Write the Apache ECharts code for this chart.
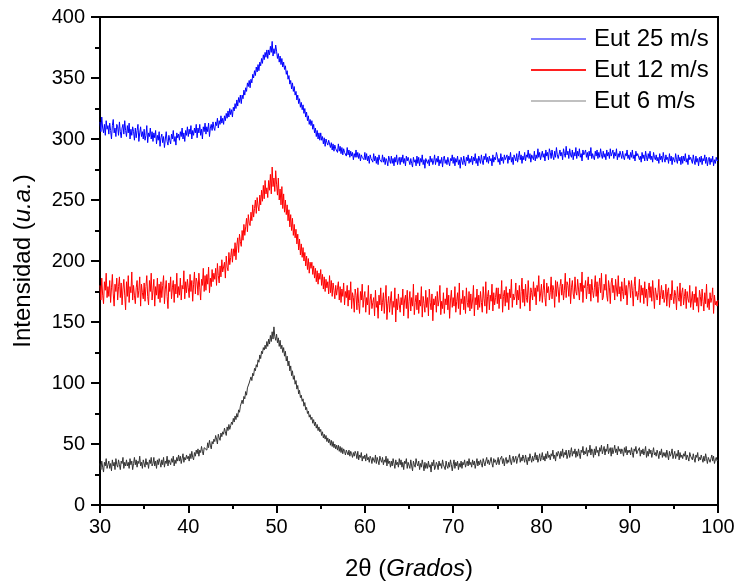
<!DOCTYPE html>
<html>
<head>
<meta charset="utf-8">
<title>Intensidad vs 2θ</title>
<script src="https://cdn.jsdelivr.net/npm/echarts@6/dist/echarts.min.js"></script>
<style>
  html, body { margin: 0; padding: 0; background: #fff; }
  #chart { width: 738px; height: 583px; }
</style>
</head>
<body>
<div id="chart"></div>
<script>
// Diffraction scans, 2θ from 30° to 100° sampled every 0.1° (one row per degree)
const X_START = 30;
const X_STEP = 0.1;

const seriesNames = ['Eut 25 m/s', 'Eut 12 m/s', 'Eut 6 m/s'];

const eut25 = [
  314,306,318,309,305,312,303,315,308,311,
  304,313,307,300,311,316,305,309,302,312,
  310,303,314,306,301,309,312,304,315,307,
  302,311,305,313,300,308,303,310,306,299,
  309,301,307,312,298,305,310,302,306,300,
  308,299,303,311,297,305,302,309,300,306,
  298,305,301,307,296,303,299,306,294,301,
  304,297,302,293,300,306,298,295,303,299,
  296,304,300,307,298,302,295,305,301,304,
  299,306,302,309,300,305,298,307,303,310,
  302,308,304,311,300,307,303,309,305,312,
  301,309,305,312,303,308,300,310,306,313,
  304,310,306,313,302,309,312,307,314,309,
  307,314,311,317,309,315,312,319,313,317,
  312,319,315,321,317,323,318,325,320,324,
  318,326,323,329,325,332,327,334,330,336,
  329,336,333,340,336,342,339,346,343,348,
  342,349,346,353,350,356,352,359,355,361,
  356,363,360,366,362,369,365,371,367,373,
  366,373,369,376,371,380,368,374,370,377,
  372,366,370,363,368,361,366,359,363,357,
  360,353,356,349,352,345,348,341,346,339,
  343,336,339,332,336,329,333,326,330,324,
  328,321,325,318,322,315,319,312,316,311,
  315,308,312,305,309,302,307,300,305,299,
  305,299,302,296,301,294,300,297,295,299,
  299,293,297,291,296,290,295,292,293,289,
  296,290,294,288,293,287,292,289,290,286,
  293,287,291,285,290,286,289,283,288,285,
  291,285,289,284,288,282,287,285,286,283,
  289,283,288,282,286,280,287,284,285,281,
  288,282,286,280,285,279,287,283,284,281,
  287,281,285,279,284,282,278,286,283,280,
  286,280,284,278,285,281,287,279,283,285,
  279,285,281,287,280,284,278,286,282,285,
  286,279,284,280,277,285,281,283,278,286,
  280,285,278,284,281,287,279,283,276,284,
  285,280,283,278,286,281,284,279,282,287,
  279,284,281,286,278,283,280,285,277,284,
  286,280,283,279,285,281,278,284,282,287,
  280,285,278,284,281,286,279,283,276,285,
  284,279,286,281,278,285,282,287,280,284,
  281,286,279,285,282,288,280,284,278,286,
  285,280,287,282,279,286,283,288,281,285,
  280,286,282,284,278,287,281,285,283,289,
  286,281,284,279,288,282,285,280,287,283,
  282,287,280,286,283,289,281,285,279,287,
  286,282,288,281,285,290,283,287,280,286,
  283,289,282,287,285,291,284,288,281,287,
  288,283,290,282,287,284,292,285,289,283,
  284,290,285,288,282,291,286,289,283,292,
  289,284,291,286,283,290,285,293,287,284,
  285,291,286,289,283,292,288,285,294,287,
  290,284,292,287,285,291,283,289,286,293,
  284,290,286,292,285,288,282,291,287,289,
  291,285,289,283,290,286,293,284,288,285,
  283,290,286,291,284,289,285,292,287,284,
  290,285,288,283,291,286,289,284,292,286,
  285,291,284,289,286,292,283,288,285,290,
  289,284,290,285,283,288,286,291,284,287,
  283,289,285,291,284,287,282,290,286,288,
  288,283,286,281,289,284,287,282,290,285,
  282,288,284,290,283,286,281,289,285,283,
  287,282,285,280,288,283,286,281,289,284,
  281,287,283,285,280,288,282,286,279,285,
  286,281,288,283,280,287,282,285,279,286,
  280,286,282,288,281,284,279,287,283,285,
  285,280,287,282,279,286,281,284,278,285,
  281,286,279,284,282,287,280,285,278,283,
  285,279,284,281,286,278,283,280,285,282,
  283
];

const eut12 = [
  180,168,186,172,165,183,176,190,170,179,
  171,184,166,178,189,173,163,181,175,186,
  168,179,187,170,182,164,177,185,172,160,
  183,171,188,166,179,174,191,168,180,172,
  165,178,184,170,176,187,163,181,174,169,
  182,167,179,188,171,164,184,175,190,168,
  176,185,163,179,172,186,169,181,166,183,
  170,180,188,165,177,184,171,161,182,175,
  187,169,178,184,166,181,173,190,170,179,
  172,186,168,180,177,192,169,183,174,185,
  178,170,189,175,184,167,181,191,173,186,
  183,172,190,178,168,185,180,194,175,188,
  176,189,181,195,174,186,179,193,183,190,
  185,194,180,198,188,182,196,187,201,191,
  190,199,186,204,195,192,207,197,203,210,
  199,210,204,215,201,213,219,207,222,216,
  212,225,217,230,221,228,235,224,238,231,
  229,240,233,246,236,243,250,239,252,245,
  241,254,246,258,249,262,251,266,255,260,
  252,266,258,271,255,277,261,268,257,274,
  263,254,268,250,259,246,261,243,255,240,
  250,238,246,233,242,228,238,225,235,221,
  230,219,226,214,222,209,218,205,214,203,
  211,200,207,196,204,193,202,190,199,194,
  199,189,196,186,194,183,192,181,190,185,
  193,180,189,177,187,175,185,178,183,173,
  188,174,184,171,182,176,169,180,172,178,
  183,168,179,166,177,171,182,164,175,170,
  180,163,176,168,183,161,174,170,158,177,
  172,160,178,165,157,175,168,181,162,170,
  175,158,170,164,180,156,168,173,161,166,
  170,155,176,162,167,153,172,164,178,159,
  166,174,157,169,180,152,165,171,158,168,
  175,156,167,162,178,150,169,160,173,164,
  158,170,164,177,155,168,172,161,176,153,
  167,175,159,170,163,181,156,166,172,160,
  174,157,168,163,179,154,171,165,158,176,
  162,170,155,177,166,160,173,151,169,164,
  171,158,175,163,168,180,156,167,161,174,
  157,169,164,178,160,172,153,168,176,162,
  170,163,179,158,167,174,161,182,156,169,
  165,176,160,171,157,178,166,162,175,159,
  173,161,168,180,155,170,164,177,160,172,
  162,175,166,158,179,169,163,183,157,171,
  176,160,172,167,181,159,174,164,170,178,
  165,178,161,173,169,184,158,171,176,163,
  179,166,174,160,177,170,185,162,173,168,
  171,182,164,176,168,180,161,175,186,166,
  177,163,181,170,166,184,172,159,178,174,
  168,183,171,178,164,180,175,188,167,173,
  181,166,176,185,170,163,182,174,179,168,
  174,187,169,180,176,162,184,171,183,177,
  166,179,185,172,181,168,176,190,170,183,
  180,171,186,165,178,184,173,169,187,175,
  172,185,177,168,182,175,191,166,180,178,
  184,169,179,187,173,181,167,185,176,170,
  178,188,171,183,166,179,186,174,190,168,
  170,181,176,189,172,167,184,178,165,182,
  186,174,180,168,185,177,171,188,173,179,
  167,183,175,169,186,172,180,164,177,184,
  181,170,184,176,163,179,187,171,175,168,
  174,185,166,180,172,178,165,183,170,177,
  163,176,182,170,179,167,184,173,161,178,
  177,168,174,185,164,172,180,169,176,166,
  170,181,163,175,178,162,173,168,184,171,
  165,176,172,160,179,170,167,182,163,174,
  178,164,171,177,161,175,169,166,180,162,
  168,175,160,173,166,179,163,170,158,176,
  171,163,177,167,159,174,165,181,162,169,
  160,174,166,170,178,157,172,164,167,163,
  168
];

const eut6 = [
  34,29,36,31,27,35,32,38,30,33,
  36,30,34,28,37,32,35,29,38,33,
  31,37,33,29,36,34,39,30,35,32,
  37,32,35,30,38,33,36,29,34,39,
  33,37,31,36,34,40,32,35,30,37,
  36,31,38,33,35,30,37,34,39,32,
  34,39,32,36,30,37,33,38,35,31,
  37,33,39,31,36,34,40,32,37,35,
  33,38,35,40,32,37,34,39,36,41,
  36,40,34,38,42,35,39,37,41,38,
  40,36,42,38,44,39,37,43,40,45,
  42,46,40,45,43,48,44,41,47,46,
  48,45,51,47,53,49,46,52,50,54,
  52,57,54,50,58,55,53,59,56,60,
  58,63,60,57,64,61,66,62,65,68,
  66,71,68,73,70,75,72,78,76,81,
  80,86,83,89,87,93,90,96,95,100,
  99,105,102,108,106,112,110,115,113,119,
  117,123,120,126,124,129,127,131,128,134,
  130,136,132,139,134,142,136,146,138,135,
  140,133,137,130,135,128,131,125,129,122,
  126,118,122,114,118,110,114,106,110,103,
  106,99,102,95,98,91,94,88,90,85,
  87,81,84,78,80,75,77,72,74,70,
  72,67,70,65,68,63,66,61,64,60,
  62,57,60,55,58,54,57,52,55,51,
  54,49,53,48,52,47,50,46,49,45,
  49,44,48,43,47,42,46,44,41,45,
  46,41,45,40,44,42,39,43,40,44,
  42,38,44,37,41,39,43,36,40,38,
  41,36,42,37,39,35,40,38,34,39,
  38,35,41,34,39,36,33,40,37,35,
  39,33,37,35,40,32,38,34,36,31,
  36,32,38,34,30,37,33,35,31,38,
  33,37,31,35,29,36,34,38,30,35,
  35,30,37,32,28,36,33,31,38,34,
  32,36,29,34,31,37,33,28,35,30,
  34,30,36,31,33,27,35,32,37,29,
  31,35,33,29,36,32,34,30,37,33,
  34,29,36,32,30,35,31,37,33,28,
  33,37,30,35,32,36,29,34,31,36,
  30,35,33,37,31,34,36,32,38,33,
  35,31,37,33,36,30,34,38,32,36,
  33,37,34,31,38,35,32,36,39,34,
  37,33,36,39,34,31,38,35,37,33,
  35,39,33,37,36,40,34,38,32,37,
  39,34,37,35,41,36,33,38,40,35,
  36,40,34,38,37,42,35,39,36,41,
  38,35,41,37,33,39,36,42,38,35,
  40,36,39,43,37,41,35,38,42,36,
  39,43,37,40,36,42,38,44,39,41,
  37,42,40,45,38,41,36,43,40,44,
  42,38,44,40,46,39,43,41,45,38,
  41,45,39,43,47,40,44,42,46,39,
  44,40,46,42,38,45,43,48,41,44,
  42,47,40,45,43,49,41,46,44,39,
  46,41,48,43,45,40,47,44,49,42,
  43,48,41,46,44,50,42,45,47,40,
  47,42,45,49,43,46,41,48,44,46,
  42,46,44,40,47,43,48,41,45,43,
  45,41,47,43,39,46,44,48,42,44,
  43,47,40,45,42,46,41,44,48,39,
  44,40,46,42,45,39,43,47,41,43,
  40,45,42,38,44,41,46,39,43,40,
  43,39,45,41,37,44,40,42,46,38,
  41,44,38,42,40,45,37,43,39,41,
  38,42,40,44,37,41,39,36,43,40,
  40,37,42,38,35,41,39,43,36,39,
  37,41,38,35,40,36,42,38,34,39,
  39,35,38,41,36,40,34,37,39,36,
  37
];

const xTicks = { min: 30, max: 100, interval: 10 };
const yTicks = { min: 0, max: 400, interval: 50 };

const seriesColors = ['#0000ff', '#ff0000', '#333333'];
const legendColors = ['#7f7fff', '#ff2020', '#c0c0c0'];

function toPairs(values) {
  return values.map((v, i) => [+(X_START + i * X_STEP).toFixed(2), v]);
}

const FONT = '"Liberation Sans", Arial, sans-serif';

const chart = echarts.init(document.getElementById('chart'), null, { renderer: 'canvas' });

const axisCommon = {
  axisLine: { show: true, onZero: false, lineStyle: { color: '#000', width: 2 } },
  axisTick: { show: true, inside: false, lineStyle: { color: '#000', width: 2 } },
  minorTick: { show: true, splitNumber: 2, lineStyle: { color: '#000', width: 2 } },
  splitLine: { show: false },
  minorSplitLine: { show: false }
};

const nameRich = {
  n: { fontFamily: FONT, fontSize: 24, color: '#000' },
  i: { fontFamily: FONT, fontSize: 24, color: '#000', fontStyle: 'italic' }
};

chart.setOption({
  animation: false,
  backgroundColor: '#fff',
  grid: {
    left: 100, right: 20, top: 17, bottom: 78,
    containLabel: false,
    outerBoundsMode: 'none',
    show: true, borderColor: '#000', borderWidth: 2
  },
  legend: {
    orient: 'vertical',
    left: 530, top: 27,
    padding: 0,
    itemWidth: 55, itemHeight: 14, itemGap: 7,
    selectedMode: false,
    textStyle: { fontFamily: FONT, fontSize: 24, color: '#000', padding: [0, 0, 0, 3] },
    data: seriesNames.map((n, i) => ({
      name: n,
      lineStyle: { color: legendColors[i], width: 2 },
      itemStyle: { color: legendColors[i], opacity: 0 }
    }))
  },
  xAxis: Object.assign({}, axisCommon, {
    type: 'value',
    min: xTicks.min, max: xTicks.max, interval: xTicks.interval,
    axisTick: Object.assign({}, axisCommon.axisTick, { length: 8 }),
    minorTick: Object.assign({}, axisCommon.minorTick, { length: 4 }),
    axisLabel: { fontFamily: FONT, fontSize: 20, color: '#000', margin: 12 },
    name: '{n|2θ (}{i|Grados}{n|)}',
    nameLocation: 'middle',
    nameGap: 52,
    nameTextStyle: { rich: nameRich }
  }),
  yAxis: Object.assign({}, axisCommon, {
    type: 'value',
    min: yTicks.min, max: yTicks.max, interval: yTicks.interval,
    axisTick: Object.assign({}, axisCommon.axisTick, { length: 9 }),
    minorTick: Object.assign({}, axisCommon.minorTick, { length: 5 }),
    axisLabel: { fontFamily: FONT, fontSize: 20, color: '#000', margin: 15 },
    name: '{n|Intensidad (}{i|u.a.}{n|)}',
    nameLocation: 'middle',
    nameRotate: 90,
    nameGap: 65,
    nameTextStyle: { rich: nameRich }
  }),
  series: [eut25, eut12, eut6].map((vals, i) => ({
    name: seriesNames[i],
    type: 'line',
    data: toPairs(vals),
    symbol: 'none',
    smooth: false,
    lineStyle: { color: seriesColors[i], width: 1 },
    itemStyle: { color: seriesColors[i] },
    emphasis: { disabled: true }
  }))
});
</script>
</body>
</html>
